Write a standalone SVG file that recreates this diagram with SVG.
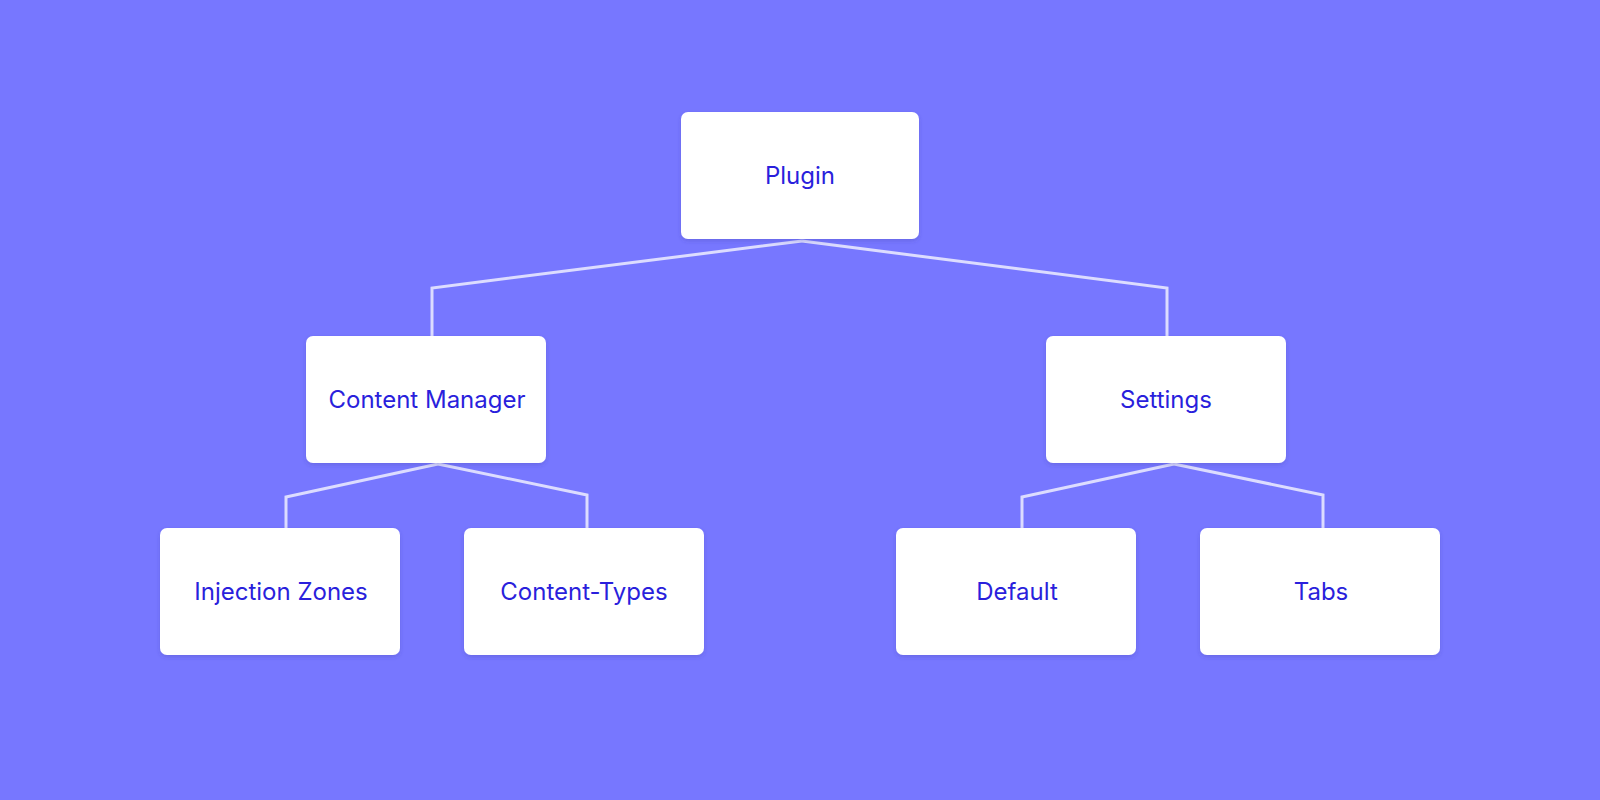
<svg xmlns="http://www.w3.org/2000/svg" width="1600" height="800" viewBox="0 0 1600 800">
<defs>
<style>
.node rect{fill:#ffffff;filter:url(#sh)}
.node text{font-family:Inter,"Noto Sans",sans-serif;font-size:24px;fill:#2a1fdc;text-anchor:middle}
.conn path{fill:none;stroke:#dcdcff;stroke-width:3;stroke-linejoin:miter}
</style>
<filter id="sh" x="-10%" y="-10%" width="120%" height="130%">
<feDropShadow dx="0" dy="2" stdDeviation="2" flood-color="#3a3aa0" flood-opacity="0.25"/>
</filter>
</defs>
<rect width="1600" height="800" fill="#7777ff"/>
<g id="connectors" class="conn">
<path d="M802,241 L432,288 L432,336"/>
<path d="M802,241 L1167,288 L1167,336"/>
<path d="M438,464 L286,497 L286,528"/>
<path d="M438,464 L587,495 L587,528"/>
<path d="M1174,464 L1022,497 L1022,528"/>
<path d="M1174,464 L1323,495 L1323,528"/>
</g>
<g id="plugin" class="node"><rect x="681" y="112" width="238" height="127" rx="7"/><text x="800" y="184">Plugin</text></g>
<g id="content-manager" class="node"><rect x="306" y="336" width="240" height="127" rx="7"/><text x="427" y="408">Content Manager</text></g>
<g id="settings" class="node"><rect x="1046" y="336" width="240" height="127" rx="7"/><text x="1166" y="408">Settings</text></g>
<g id="injection-zones" class="node"><rect x="160" y="528" width="240" height="127" rx="7"/><text x="281" y="600">Injection Zones</text></g>
<g id="content-types" class="node"><rect x="464" y="528" width="240" height="127" rx="7"/><text x="584" y="600">Content-Types</text></g>
<g id="default" class="node"><rect x="896" y="528" width="240" height="127" rx="7"/><text x="1017" y="600">Default</text></g>
<g id="tabs" class="node"><rect x="1200" y="528" width="240" height="127" rx="7"/><text x="1321" y="600">Tabs</text></g>
</svg>
